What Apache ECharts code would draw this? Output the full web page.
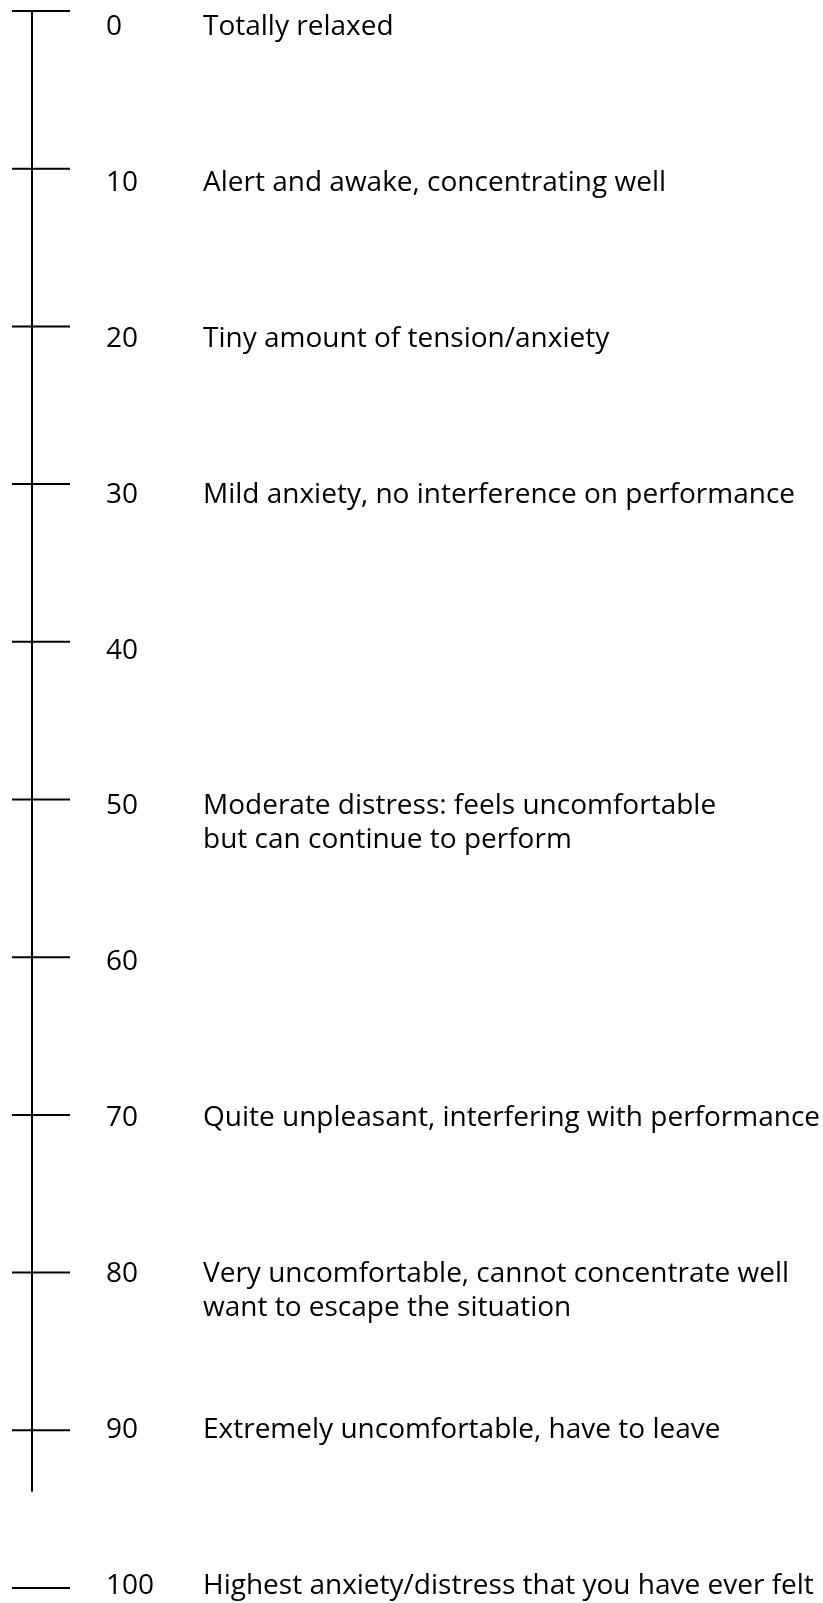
<!DOCTYPE html>
<html>
<head>
<meta charset="utf-8">
<script src="https://cdn.jsdelivr.net/npm/echarts@6/dist/echarts.min.js"></script>
<style>
  html, body { margin: 0; padding: 0; background: #ffffff; }
  #chart { width: 823px; height: 1603px; }
</style>
</head>
<body>
<div id="chart"></div>
<script>
// Scale levels (subjective units of distress)
const levels = [0, 10, 20, 30, 40, 50, 60, 70, 80, 90, 100];
const tickLabels = ['0', '10', '20', '30', '40', '50', '60', '70', '80', '90', '100'];
const descriptions = [
  'Totally relaxed',
  'Alert and awake, concentrating well',
  'Tiny amount of tension/anxiety',
  'Mild anxiety, no interference on performance',
  '',
  'Moderate distress: feels uncomfortable\nbut can continue to perform',
  '',
  'Quite unpleasant, interfering with performance',
  'Very uncomfortable, cannot concentrate well\nwant to escape the situation',
  'Extremely uncomfortable, have to leave',
  'Highest anxiety/distress that you have ever felt'
];
// The continuous scale line runs from 0 and breaks before the top level
const spineExtent = [0, 93.9];

const chart = echarts.init(document.getElementById('chart'), null, { renderer: 'canvas' });

const FONT = '"Open Sans", Roboto, sans-serif';
const FS = 28;
const LH = 34;

const option = {
  backgroundColor: '#ffffff',
  animation: false,
  grid: [
    { left: 32, right: 0, top: 11, bottom: 15 },   // scale line + ticks
    { left: 32, right: 0, top: 27, bottom: 17 }    // text labels
  ],
  xAxis: [
    { gridIndex: 0, type: 'value', min: 0, max: 1, show: false },
    { gridIndex: 1, type: 'value', min: 0, max: 1, show: false }
  ],
  yAxis: [
    { gridIndex: 0, type: 'value', min: 0, max: 100, inverse: true, show: false },
    { gridIndex: 1, type: 'value', min: 0, max: 100, inverse: true, show: false }
  ],
  series: [
    {
      type: 'line',
      xAxisIndex: 0, yAxisIndex: 0,
      data: spineExtent.map(v => [0, v]),
      symbol: 'none',
      silent: true,
      lineStyle: { color: '#000000', width: 2 }
    },
    {
      type: 'custom',
      xAxisIndex: 0, yAxisIndex: 0,
      silent: true,
      data: levels.map(v => [0, v]),
      encode: { x: 0, y: 1 },
      renderItem: function (params, api) {
        const p = api.coord([api.value(0), api.value(1)]);
        return {
          type: 'line',
          shape: { x1: p[0] - 20, y1: p[1], x2: p[0] + 38, y2: p[1] },
          style: { stroke: '#000000', lineWidth: 2 }
        };
      }
    },
    {
      type: 'custom',
      xAxisIndex: 1, yAxisIndex: 1,
      silent: true,
      data: levels.map((v, i) => [0, v, i]),
      encode: { x: 0, y: 1 },
      renderItem: function (params, api) {
        const idx = api.value(2);
        const p = api.coord([api.value(0), api.value(1)]);
        const x = p[0], y = p[1];
        return {
          type: 'group',
          children: [
            {
              type: 'text',
              x: x + 74,
              y: y,
              style: {
                text: tickLabels[idx],
                fill: '#000000',
                font: FS + 'px ' + FONT,
                textAlign: 'left',
                textVerticalAlign: 'middle'
              }
            },
            {
              type: 'text',
              x: x + 171,
              y: y - LH / 2,
              style: {
                text: descriptions[idx],
                fill: '#000000',
                font: FS + 'px ' + FONT,
                textAlign: 'left',
                textVerticalAlign: 'top',
                lineHeight: LH
              }
            }
          ]
        };
      }
    }
  ]
};
chart.setOption(option);
</script>
</body>
</html>
